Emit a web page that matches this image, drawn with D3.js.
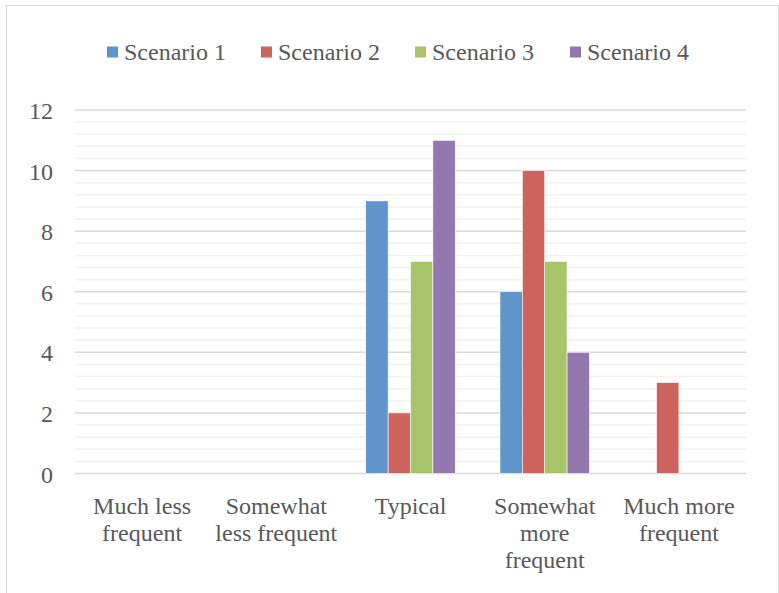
<!DOCTYPE html>
<html>
<head>
<meta charset="utf-8">
<script src="https://cdn.jsdelivr.net/npm/d3@7"></script>
<style>
  html, body { margin: 0; padding: 0; background: #fff; }
  svg { display: block; }
  text { font-family: "Liberation Serif", serif; fill: #595959; }
</style>
</head>
<body>
<svg id="chart" width="779" height="593"></svg>
<script>
// Frequency responses per scenario
const categories = [
  ["Much less", "frequent"],
  ["Somewhat", "less frequent"],
  ["Typical"],
  ["Somewhat", "more", "frequent"],
  ["Much more", "frequent"]
];
const seriesNames = ["Scenario 1", "Scenario 2", "Scenario 3", "Scenario 4"];
const scenario1 = [0, 0, 9, 6, 0];
const scenario2 = [0, 0, 2, 10, 3];
const scenario3 = [0, 0, 7, 7, 0];
const scenario4 = [0, 0, 11, 4, 0];
const yTicks = [0, 2, 4, 6, 8, 10, 12];
const colors = ["#5F95CA", "#CD635C", "#A8C46A", "#9378AF"];

const seriesValues = [scenario1, scenario2, scenario3, scenario4];
const FONT = 24;

const svg = d3.select("#chart");
const W = 779, H = 593;
const plot = { left: 75, right: 746, top: 110, bottom: 473.5 };

// Outer chart frame
svg.append("path")
  .attr("d", `M6.5,${H} V5.5 H778.5 V${H}`)
  .attr("fill", "none")
  .attr("stroke", "#d9d9d9")
  .attr("stroke-width", 1.2);

const catKeys = categories.map((c, i) => i);
const x0 = d3.scaleBand().domain(catKeys).range([plot.left, plot.right]).padding(0);
const bw = x0.bandwidth();
const x1 = d3.scaleBand().domain(seriesNames).range([bw / 6, bw * 5 / 6]).padding(0);
const y = d3.scaleLinear().domain([0, 12]).range([plot.bottom, plot.top]);

// Minor gridlines every 0.4
const minor = d3.range(0, 12.001, 0.4).filter(v => Math.abs(v / 2 - Math.round(v / 2)) > 1e-6);
svg.append("g").selectAll("line").data(minor).join("line")
  .attr("x1", plot.left).attr("x2", plot.right)
  .attr("y1", d => y(d)).attr("y2", d => y(d))
  .attr("stroke", "#f2f2f2").attr("stroke-width", 1.5);

// Major gridlines
svg.append("g").selectAll("line").data(yTicks).join("line")
  .attr("x1", plot.left).attr("x2", plot.right)
  .attr("y1", d => y(d)).attr("y2", d => y(d))
  .attr("stroke", "#d9d9d9").attr("stroke-width", 1.5);

// Y axis labels
const yAxis = d3.axisLeft(y).tickValues(yTicks).tickSize(0).tickPadding(0);
const gy = svg.append("g").attr("transform", `translate(53,0)`).call(yAxis);
gy.select(".domain").remove();
gy.selectAll("text")
  .attr("font-family", "Liberation Serif, serif")
  .attr("font-size", FONT)
  .attr("fill", "#595959")
  .attr("dy", 8.5);

// Bars
const groups = svg.append("g").selectAll("g").data(catKeys).join("g")
  .attr("transform", d => `translate(${x0(d)},0)`);
groups.selectAll("rect")
  .data(ci => seriesNames.map((s, si) => ({ s, si, v: seriesValues[si][ci] })).filter(d => d.v > 0))
  .join("rect")
  .attr("x", d => x1(d.s))
  .attr("width", x1.bandwidth())
  .attr("y", d => y(d.v))
  .attr("height", d => y(0) - y(d.v))
  .attr("fill", d => colors[d.si])
  .attr("stroke", "#ffffff")
  .attr("stroke-width", 0.6);

// Category labels
const xl = svg.append("g").selectAll("text").data(catKeys).join("text")
  .attr("x", d => x0(d) + bw / 2)
  .attr("y", 514)
  .attr("text-anchor", "middle")
  .attr("font-size", FONT);
xl.selectAll("tspan").data(d => categories[d]).join("tspan")
  .attr("x", function () { return d3.select(this.parentNode).attr("x"); })
  .attr("dy", (d, i) => i === 0 ? 0 : 27)
  .text(d => d);

// Legend
const legendX = [107, 261, 415, 570];
const lg = svg.append("g").selectAll("g").data(seriesNames).join("g")
  .attr("transform", (d, i) => `translate(${legendX[i]},52)`);
lg.append("rect")
  .attr("x", 0).attr("y", -5.5).attr("width", 11).attr("height", 11)
  .attr("fill", (d, i) => colors[i]);
lg.append("text")
  .attr("x", 17).attr("y", 8)
  .attr("font-size", FONT)
  .text(d => d);
</script>
</body>
</html>
